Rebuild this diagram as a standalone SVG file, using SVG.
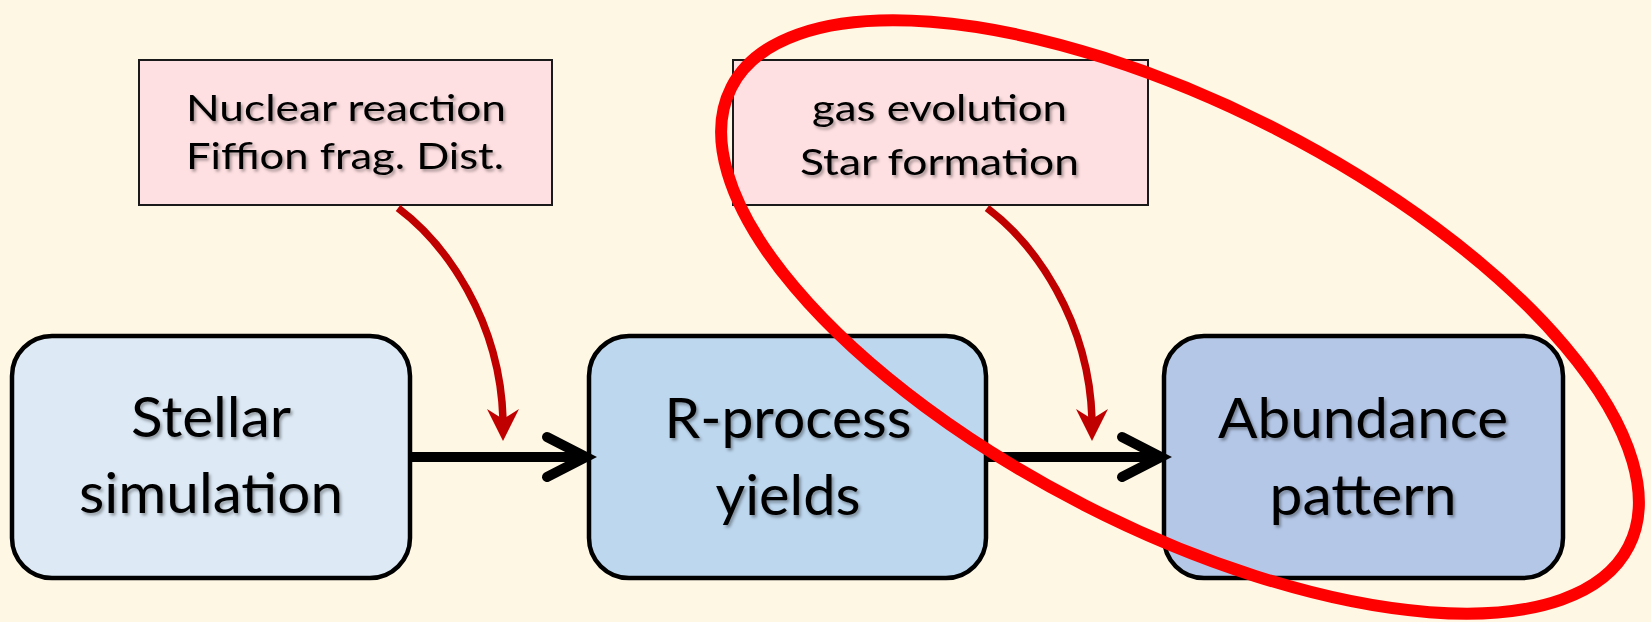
<svg xmlns="http://www.w3.org/2000/svg" width="1651" height="622" viewBox="0 0 1651 622">
  <style>
    .bg { fill: #FEF7E4; }
    .step { stroke: #000; stroke-width: 4.5; }
    .note { fill: #FFE0E2; stroke: #1a1a1a; stroke-width: 2; }
    .big { font-family: Lato, "Open Sans", sans-serif; font-size: 57px; fill: #000; text-anchor: middle; filter: url(#shadow); }
    .small { font-family: Lato, "Open Sans", sans-serif; font-size: 36px; fill: #000; text-anchor: middle; filter: url(#shadow); }
    .flow { stroke: #000; stroke-width: 10; fill: none; }
    .chev { stroke: #000; stroke-width: 10; fill: none; stroke-linecap: round; stroke-linejoin: miter; }
    .infl { stroke: #C00000; stroke-width: 7.5; fill: none; }
    .head { fill: #C00000; }
    .focus { fill: none; stroke: #FF0000; stroke-width: 12; }
  </style>
  <defs>
    <filter id="shadow" x="-10%" y="-30%" width="120%" height="160%">
      <feDropShadow dx="2" dy="2.5" stdDeviation="1.6" flood-color="#000" flood-opacity="0.35"/>
    </filter>
  </defs>

  <rect class="bg" x="0" y="0" width="1651" height="622"/>

  <!-- input notes -->
  <g id="note-nuclear">
    <rect class="note" x="139" y="60" width="413" height="145"/>
    <text class="small" x="346" y="121" textLength="320" lengthAdjust="spacingAndGlyphs">Nuclear reaction</text>
    <text class="small" x="345" y="169" textLength="318" lengthAdjust="spacingAndGlyphs">Fiffion frag. Dist.</text>
  </g>
  <g id="note-galactic">
    <rect class="note" x="733" y="60" width="415" height="145"/>
    <text class="small" x="939.5" y="121" textLength="255" lengthAdjust="spacingAndGlyphs">gas evolution</text>
    <text class="small" x="939.5" y="175" textLength="279" lengthAdjust="spacingAndGlyphs">Star formation</text>
  </g>

  <!-- pipeline steps -->
  <g id="step-stellar">
    <rect class="step" x="12" y="336" width="398" height="242" rx="40" ry="40" fill="#DDEAF6"/>
    <text class="big" x="211" y="437" textLength="160" lengthAdjust="spacingAndGlyphs">Stellar</text>
    <text class="big" x="211" y="513" textLength="264" lengthAdjust="spacingAndGlyphs">simulation</text>
  </g>
  <g id="step-rprocess">
    <rect class="step" x="589" y="336" width="397" height="242" rx="40" ry="40" fill="#BDD7EE"/>
    <text class="big" x="788" y="438" textLength="247" lengthAdjust="spacingAndGlyphs">R-process</text>
    <text class="big" x="788" y="515" textLength="145" lengthAdjust="spacingAndGlyphs">yields</text>
  </g>
  <g id="step-abundance">
    <rect class="step" x="1164" y="336" width="399" height="242" rx="40" ry="40" fill="#B4C7E7"/>
    <text class="big" x="1363" y="438" textLength="290" lengthAdjust="spacingAndGlyphs">Abundance</text>
    <text class="big" x="1363" y="515" textLength="187" lengthAdjust="spacingAndGlyphs">pattern</text>
  </g>

  <!-- connectors -->
  <g id="connectors">
    <line class="flow" x1="410" y1="457" x2="584" y2="457"/>
    <polyline class="chev" points="547,437 586,457 547,477"/>
    <line class="flow" x1="986" y1="457" x2="1159" y2="457"/>
    <polyline class="chev" points="1122,437 1161,457 1122,477"/>

    <path class="infl" d="M398,208 C446,244 500,320 503,419"/>
    <polygon class="head" points="503,441 487,409 503,419 519,409"/>
    <path class="infl" d="M987,208 C1035,244 1089,320 1092,419"/>
    <polygon class="head" points="1092,441 1076,409 1092,419 1108,409"/>
  </g>

  <!-- highlight ring -->
  <g id="highlight">
    <ellipse class="focus" cx="1180" cy="317" rx="504" ry="211" transform="rotate(27.1 1180 317)"/>
  </g>
</svg>
